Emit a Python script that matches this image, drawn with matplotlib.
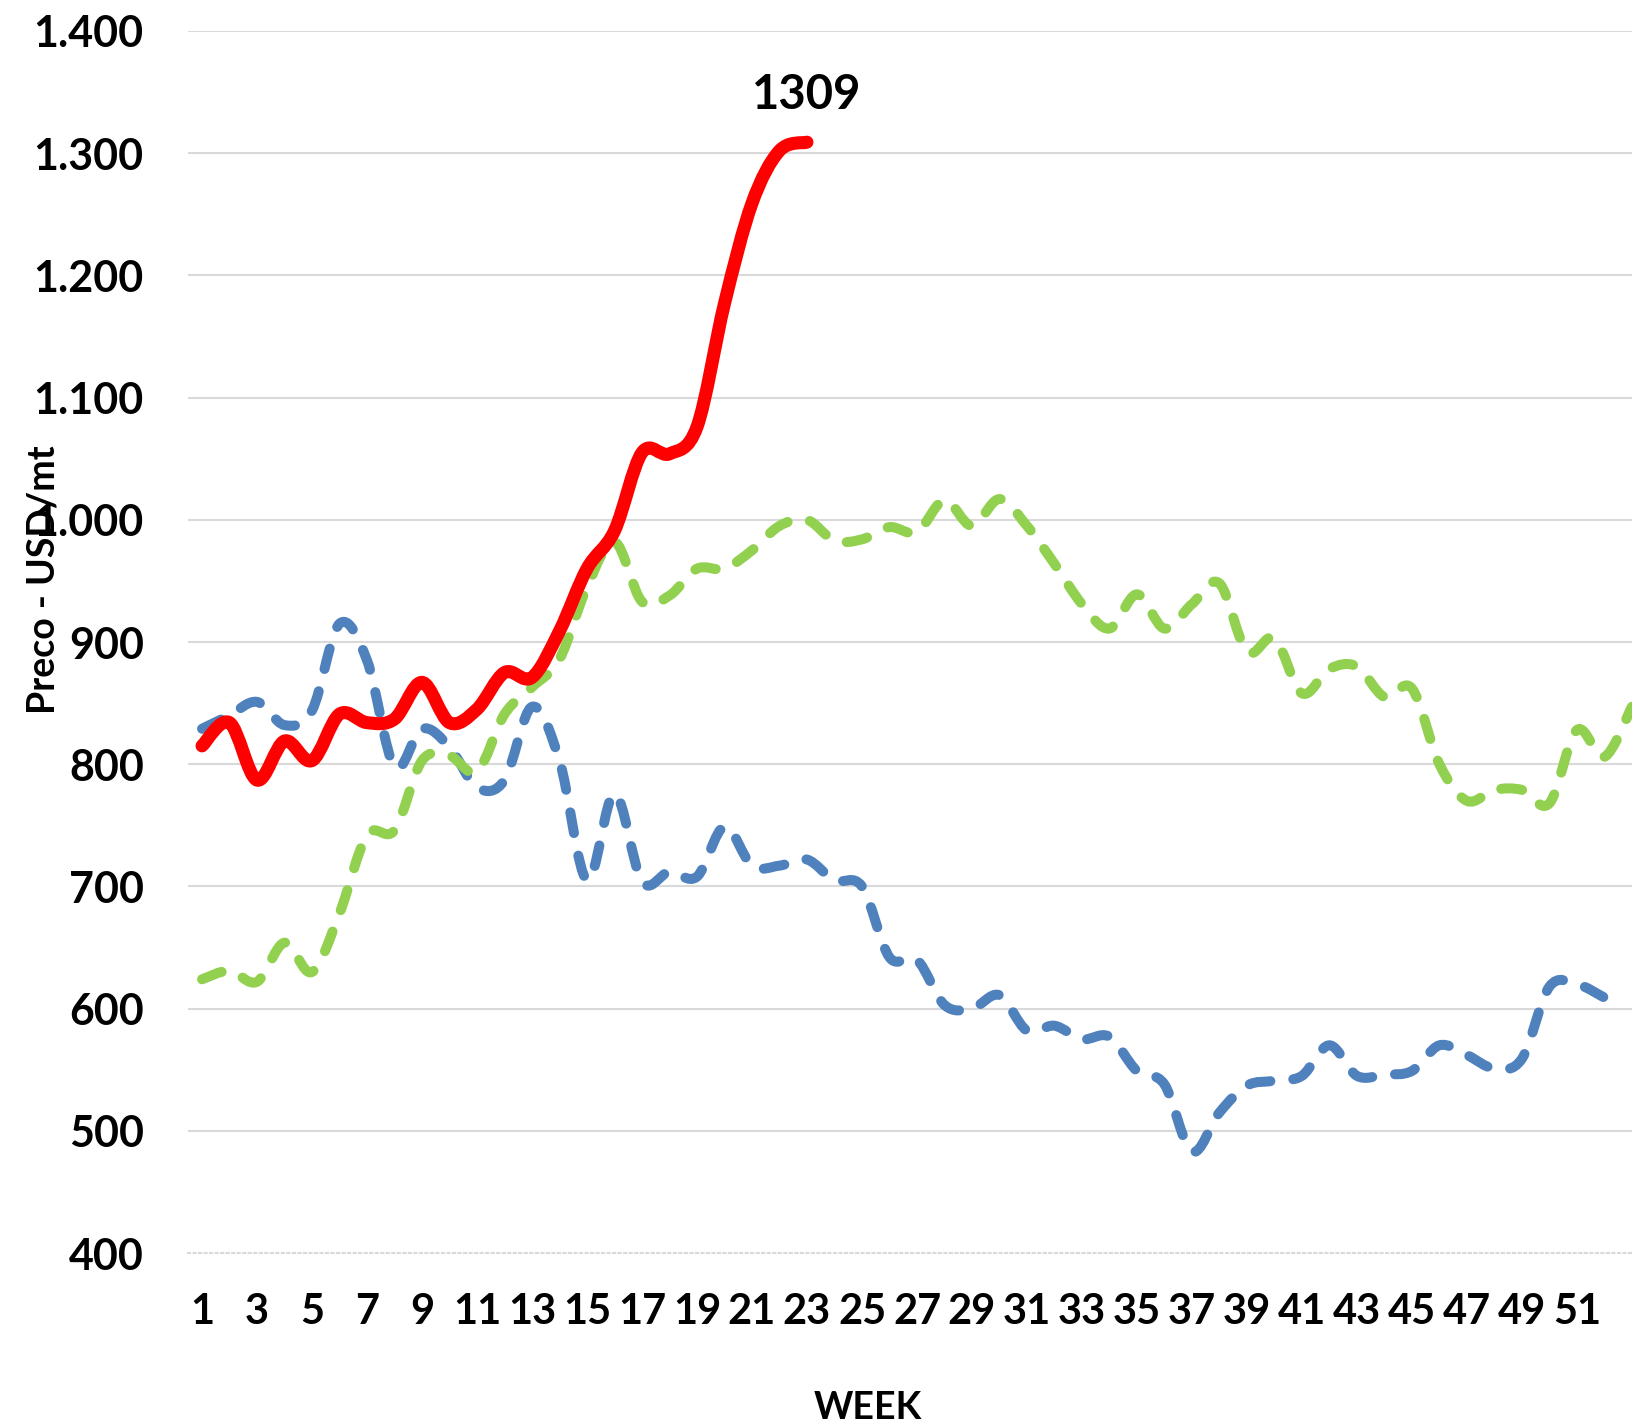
import numpy as np
import matplotlib
matplotlib.use("Agg")
import matplotlib.pyplot as plt
from matplotlib.path import Path
from matplotlib.patches import PathPatch

plt.rcParams['font.family'] = ['Lato', 'DejaVu Sans']

# weekly prices, USD/mt
weeks_red = np.arange(1, 24)
price_red = [815, 834, 787, 819, 803, 841, 834, 837, 867, 834, 845, 875, 871,
             909, 960, 991, 1055, 1054, 1076, 1177, 1259, 1302, 1309]

weeks_blue = np.arange(1, 53)
price_blue = [829, 840, 851, 832, 844, 915, 885, 798, 829, 814, 781, 787, 847,
              803, 705, 776, 704, 712, 708, 749, 717, 717, 722, 705, 700, 642,
              640, 603, 600, 611, 582, 586, 575, 577, 549, 538, 483, 515, 537,
              541, 545, 570, 545, 546, 549, 570, 562, 551, 559, 618, 620, 609]

weeks_green = np.arange(1, 54)
price_green = [624, 631, 622, 654, 630, 678, 742, 746, 803, 807, 794, 841, 863,
               886, 945, 982, 933, 938, 960, 960, 975, 995, 1000, 983, 984, 994,
               990, 1016, 995, 1017, 995, 964, 931, 911, 939, 911, 931, 948, 892,
               903, 858, 878, 880, 855, 862, 800, 770, 779, 779, 768, 828, 806, 847]

y_ticks = [400, 500, 600, 700, 800, 900, 1000, 1100, 1200, 1300, 1400]
y_tick_labels = ['400', '500', '600', '700', '800', '900',
                 '1.000', '1.100', '1.200', '1.300', '1.400']
x_ticks = np.arange(1, 52, 2)


def smooth_path(x, y):
    # cubic bezier through every point (spreadsheet-style smoothed line)
    pts = np.column_stack([x, y]).astype(float)
    ext = np.vstack([pts[0], pts, pts[-1]])
    verts = [pts[0]]
    codes = [Path.MOVETO]
    for i in range(len(pts) - 1):
        p0, p1, p2, p3 = ext[i], ext[i + 1], ext[i + 2], ext[i + 3]
        verts += [p1 + (p2 - p0) / 6, p2 - (p3 - p1) / 6, p2]
        codes += [Path.CURVE4] * 3
    return Path(verts, codes)


fig = plt.figure(figsize=(16.33, 14.27), dpi=100)
ax = fig.add_axes([0.1153, 0.1219, 0.8847, 0.8564])

dash = (0, (2.1, 2.3))
ax.add_patch(PathPatch(smooth_path(weeks_blue, price_blue), fill=False,
                       edgecolor='#4F81BD', lw=7.2, linestyle=dash,
                       capstyle='round', joinstyle='round', zorder=3))
ax.add_patch(PathPatch(smooth_path(weeks_green, price_green), fill=False,
                       edgecolor='#92D050', lw=7.2, linestyle=dash,
                       capstyle='round', joinstyle='round', zorder=3))
ax.add_patch(PathPatch(smooth_path(weeks_red, price_red), fill=False,
                       edgecolor='#FF0000', lw=9.4, capstyle='round',
                       joinstyle='round', zorder=4))

ax.annotate(str(price_red[-1]), xy=(weeks_red[-1], price_red[-1]),
            xytext=(0, 34), textcoords='offset points', ha='center', va='center',
            fontsize=34, fontweight='bold')

ax.set_xlim(0.5, 53.04)
ax.set_ylim(400, 1400)
ax.set_yticks(y_ticks)
ax.set_yticklabels(y_tick_labels)
ax.set_xticks(x_ticks)
ax.tick_params(axis='y', length=0, labelsize=31, pad=32)
ax.tick_params(axis='x', length=0, labelsize=30, pad=29)
for lbl in ax.get_xticklabels() + ax.get_yticklabels():
    lbl.set_fontweight('bold')

ax.yaxis.grid(True, color='#d9d9d9', lw=1.5)
ax.get_ygridlines()[0].set_visible(False)
ax.set_axisbelow(True)
for side in ['top', 'right', 'left']:
    ax.spines[side].set_visible(False)
ax.spines['bottom'].set_color('#d9d9d9')
ax.spines['bottom'].set_linestyle(':')
ax.spines['bottom'].set_linewidth(1.5)

fig.text(44 / 1633, 1 - 580 / 1427, 'Preco - USD/mt', rotation=90,
         ha='center', va='center', fontsize=27, fontweight='bold')
fig.text(868 / 1633, 1 - 1408 / 1427, 'WEEK', ha='center', va='center',
         fontsize=27, fontweight='bold')

fig.savefig('out.png', dpi=100)
